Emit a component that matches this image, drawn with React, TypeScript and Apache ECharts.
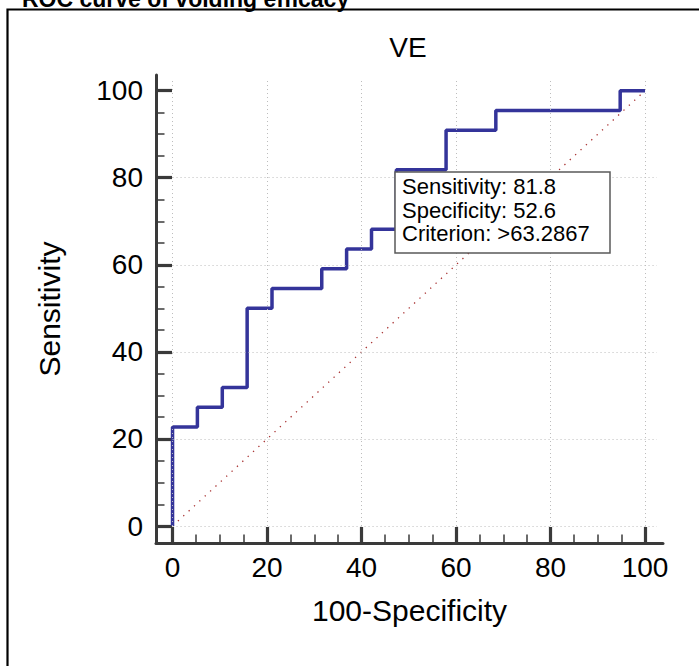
import React, { useEffect, useRef } from "react";
import * as echarts from "echarts";

// ROC operating points (100-Specificity, Sensitivity)
const fpr = [0, 0, 5.26, 5.26, 10.53, 10.53, 15.79, 15.79, 21.05, 21.05, 31.58, 31.58, 36.84, 36.84, 42.11, 42.11, 47.37, 47.37, 57.89, 57.89, 68.42, 68.42, 94.74, 94.74, 100];
const tpr = [0, 22.73, 22.73, 27.27, 27.27, 31.82, 31.82, 50, 50, 54.55, 54.55, 59.09, 59.09, 63.64, 63.64, 68.18, 68.18, 81.82, 81.82, 90.91, 90.91, 95.45, 95.45, 100, 100];
const diagonalX = [0, 100];
const diagonalY = [0, 100];
const majorTicks = [0, 20, 40, 60, 80, 100];
const minorTicks = [5, 10, 15, 25, 30, 35, 45, 50, 55, 65, 70, 75, 85, 90, 95];
const hGrid = [0, 20, 40, 60, 80];
const vGrid = [0, 20, 40, 60, 80, 100];
const annotation = ["Sensitivity: 81.8", "Specificity: 52.6", "Criterion: >63.2867"];
const chartTitle = "VE";
const pageTitle = "ROC curve of voiding efficacy";
const xName = "100-Specificity";
const yName = "Sensitivity";

const X_MIN = -3.5;
const X_MAX = 103.8;
const Y_MIN = -3.9;
const Y_MAX = 103.6;
const GRID_END = 102.5;

const FONT = '"Liberation Sans", Arial, sans-serif';
const AX = "#3a3a3a";

export default function App() {
  const ref = useRef<HTMLDivElement>(null);
  useEffect(() => {
    if (!ref.current) return;
    const chart = echarts.init(ref.current, undefined, { renderer: "svg" });
    const axisCommon = (min: number, max: number) => ({
      type: "value" as const,
      min,
      max,
      splitLine: { show: false },
    });
    const option: any = {
      animation: false,
      backgroundColor: "#ffffff",
      grid: { left: 156, right: 36, top: 75, bottom: 123 },
      xAxis: [
        {
          ...axisCommon(X_MIN, X_MAX),
          position: "bottom",
          axisLine: { show: true, onZero: false, lineStyle: { color: AX, width: 3 } },
          axisTick: { show: true, inside: true, length: 16, customValues: majorTicks, lineStyle: { color: AX, width: 3.2 } },
          axisLabel: { show: true, customValues: majorTicks, margin: 10, color: "#000", fontSize: 28, fontFamily: FONT },
          name: xName,
          nameLocation: "middle",
          nameGap: 52,
          nameTextStyle: { color: "#000", fontSize: 30, fontFamily: FONT },
        },
        {
          ...axisCommon(X_MIN, X_MAX),
          position: "bottom",
          axisLine: { show: false, onZero: false },
          axisTick: { show: true, inside: true, length: 8.5, customValues: minorTicks, lineStyle: { color: AX, width: 1.5 } },
          axisLabel: { show: false },
        },
      ],
      yAxis: [
        {
          ...axisCommon(Y_MIN, Y_MAX),
          position: "left",
          axisLine: { show: true, onZero: false, lineStyle: { color: AX, width: 3 } },
          axisTick: { show: true, inside: true, length: 16, customValues: majorTicks, lineStyle: { color: AX, width: 3.2 } },
          axisLabel: { show: true, customValues: majorTicks, margin: 13, color: "#000", fontSize: 28, fontFamily: FONT },
          name: yName,
          nameLocation: "middle",
          nameGap: 92,
          nameTextStyle: { color: "#000", fontSize: 30, fontFamily: FONT },
        },
        {
          ...axisCommon(Y_MIN, Y_MAX),
          position: "left",
          axisLine: { show: false, onZero: false },
          axisTick: { show: true, inside: true, length: 8.5, customValues: minorTicks, lineStyle: { color: AX, width: 1.5 } },
          axisLabel: { show: false },
        },
      ],
      series: [
        {
          type: "line",
          xAxisIndex: 0,
          yAxisIndex: 0,
          data: diagonalX.map((x, i) => [x, diagonalY[i]]),
          symbol: "none",
          silent: true,
          lineStyle: { color: "#a83030", width: 1.3, type: [1.3, 6] },
          z: 2,
          markLine: {
            silent: true,
            symbol: ["none", "none"],
            label: { show: false },
            emphasis: { disabled: true },
            lineStyle: { color: "#bcbcbc", width: 1, type: [1, 3] },
            data: [
              ...hGrid.map((v) => [{ coord: [0, v] }, { coord: [GRID_END, v] }]),
              ...vGrid.map((v) => [{ coord: [v, 0] }, { coord: [v, GRID_END] }]),
            ],
          },
        },
        {
          type: "line",
          xAxisIndex: 0,
          yAxisIndex: 0,
          data: fpr.map((x, i) => [x, tpr[i]]),
          symbol: "none",
          silent: true,
          lineStyle: { color: "#34349a", width: 3.5 },
          z: 3,
        },
      ],
      graphic: [
        {
          type: "rect",
          z: 1,
          silent: true,
          shape: { x: 7.5, y: 9.5, width: 800, height: 800 },
          style: { fill: "none", stroke: "#000", lineWidth: 2.2 },
        },
        {
          type: "text",
          z: 100,
          x: 22,
          y: -13,
          style: { text: pageTitle, fill: "#000", fontSize: 23, fontWeight: "bold", fontFamily: FONT, verticalAlign: "top", textVerticalAlign: "top" },
        },
        {
          type: "text",
          z: 100,
          x: 408,
          y: 33,
          style: { text: chartTitle, fill: "#000", fontSize: 28, fontFamily: FONT, align: "center", textAlign: "center", verticalAlign: "top", textVerticalAlign: "top" },
        },
        {
          type: "rect",
          z: 100,
          shape: { x: 395, y: 172, width: 215, height: 81 },
          style: { fill: "#ffffff", stroke: "#5a5a5a", lineWidth: 1.5 },
        },
        {
          type: "text",
          z: 101,
          x: 402,
          y: 175,
          style: { text: annotation.join("\n"), fill: "#000", fontSize: 22, lineHeight: 23.5, fontFamily: FONT, verticalAlign: "top", textVerticalAlign: "top" },
        },
      ],
    };
    chart.setOption(option);
    return () => chart.dispose();
  }, []);
  return (
    <div
      ref={ref}
      style={{ position: "absolute", left: 0, top: 0, width: 699, height: 666, background: "#fff" }}
    />
  );
}
